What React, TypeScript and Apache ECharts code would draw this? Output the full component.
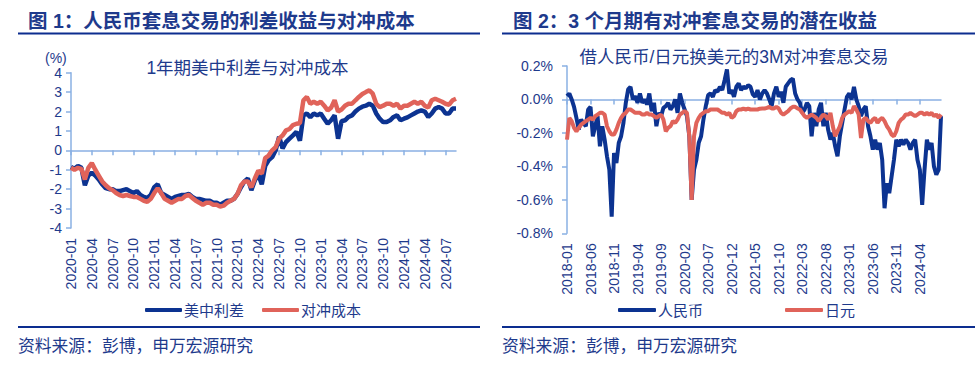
import React, { useEffect, useRef } from "react";
import * as echarts from "echarts";

// ---------- data ----------
// Left chart: half-monthly observations from 2020-01 to 2024-08
const spreadUSCN = [
  -0.86, -0.95, -0.8, -0.9, -1.8, -1.3, -1.15, -1.3, -1.5, -1.75,
  -1.95, -2.0, -2.0, -2.1, -2.1, -2.05, -2.0, -2.1, -2.2, -2.1,
  -2.3, -2.4, -2.45, -2.3, -1.9, -1.75, -2.2, -2.3, -2.4, -2.5,
  -2.4, -2.35, -2.3, -2.3, -2.25, -2.4, -2.5, -2.5, -2.55, -2.6,
  -2.6, -2.7, -2.7, -2.8, -2.7, -2.6, -2.6, -2.5,
  -2.25, -1.9, -1.6, -1.45, -2.05, -1.55, -1.25, -1.75, -0.8, -0.5,
  -0.35, 0.0, 0.7, 0.1, 0.43, 0.6, 0.77, 0.95, 0.5, 1.8,
  1.9, 1.7, 1.9, 1.8, 1.9, 1.63, 1.37, 1.55, 1.8, 0.6,
  1.5, 1.55, 1.72, 1.8, 2.0, 2.15, 2.25, 2.3, 2.4, 2.3,
  1.9, 1.63, 1.46, 1.46, 1.55, 1.72, 1.8, 1.55, 1.63, 1.7,
  1.8, 1.9, 2.0, 2.06, 2.0, 1.72, 1.9, 2.15, 2.23, 2.15,
  1.9, 1.9, 2.15, 2.15,
];
const hedgeCost = [
  -0.9, -1.0, -0.9, -0.95, -1.5, -0.9, -0.65, -1.0, -1.3, -1.6,
  -1.8, -1.95, -2.05, -2.2, -2.3, -2.35, -2.3, -2.35, -2.4, -2.4,
  -2.5, -2.6, -2.65, -2.5, -2.2, -1.95, -2.2, -2.5, -2.6, -2.7,
  -2.6, -2.5, -2.5, -2.35, -2.3, -2.45, -2.6, -2.7, -2.8, -2.7,
  -2.7, -2.8, -2.8, -2.9, -2.85, -2.7, -2.6, -2.5,
  -2.25, -1.8, -1.6, -1.6, -1.9, -1.45, -1.05, -1.2, -0.4, -0.26,
  0.0, 0.17, 0.6, 0.77, 1.03, 1.1, 1.3, 1.37, 1.4, 2.58,
  2.75, 2.4, 2.5, 2.4, 2.5, 2.3, 2.06, 2.2, 2.58, 2.0,
  2.1, 2.3, 2.4, 2.4, 2.58, 2.75, 2.9, 3.0, 3.09, 2.92,
  2.4, 2.23, 2.3, 2.4, 2.4, 2.3, 2.4, 2.15, 2.3, 2.3,
  2.4, 2.5, 2.4, 2.5, 2.3, 2.2, 2.58, 2.66, 2.58, 2.5,
  2.4, 2.35, 2.58, 2.66,
];

// Right chart: half-monthly observations from 2018-01 to 2024-08 (%)
const carryCNY = [
  0.02, 0.035, 0.0, -0.044, -0.11, -0.18, -0.12, -0.14, -0.16, -0.06,
  -0.044, -0.22, -0.16, -0.1, -0.28, -0.16, -0.24, -0.34, -0.42, -0.7,
  -0.32, -0.38, -0.26, -0.22, -0.14, -0.02, 0.06, 0.076, 0.0, 0.02,
  -0.02, 0.036, -0.02, 0.0, -0.03, 0.036, -0.07, -0.02, -0.16, -0.08,
  -0.1, -0.05, -0.04, -0.02, -0.06, -0.04, 0.0, -0.08, 0.036, -0.02,
  -0.06, -0.1, -0.22, -0.6, -0.42, -0.36, -0.26, -0.22, -0.12, -0.04,
  0.026, 0.036, 0.016, 0.056, 0.046, 0.076, 0.056, 0.115, 0.18, 0.036,
  0.056, 0.016, 0.076, 0.096, 0.056, 0.076, 0.066, 0.085, 0.076, 0.03,
  0.016, 0.056, 0.0, 0.036, 0.056, 0.036, 0.0, -0.04, 0.036, 0.076,
  0.016, 0.046, -0.02, 0.076, 0.096, 0.115, 0.125, 0.036, 0.0, -0.02,
  -0.08, -0.06, -0.02, -0.04, -0.22, -0.08, -0.16, -0.06, -0.02, -0.16,
  -0.08, -0.18, -0.24, -0.2, -0.28, -0.34, -0.22, -0.14, -0.06, 0.016,
  0.036, 0.0, 0.076, 0.0, -0.04, -0.1, -0.06, -0.04, -0.16, -0.22,
  -0.3, -0.24, -0.3, -0.26, -0.36, -0.65, -0.5, -0.56, -0.46, -0.36,
  -0.24, -0.28, -0.24, -0.27, -0.24, -0.26, -0.3, -0.26, -0.24, -0.36,
  -0.42, -0.63, -0.42, -0.24, -0.3, -0.26, -0.4, -0.45, -0.42, -0.1,
];
const carryJPY = [
  -0.24, -0.11, -0.13, -0.17, -0.19, -0.17, -0.15, -0.14, -0.13, -0.12,
  -0.11, -0.12, -0.1, -0.09, -0.08, -0.08, -0.09, -0.16, -0.19, -0.21,
  -0.21, -0.18, -0.14, -0.11, -0.09, -0.08, -0.06, -0.06, -0.07, -0.08,
  -0.08, -0.08, -0.09, -0.09, -0.08, -0.09, -0.09, -0.1, -0.11, -0.1,
  -0.09, -0.12, -0.19, -0.17, -0.16, -0.13, -0.14, -0.12, -0.09, -0.08,
  -0.07, -0.08, -0.22, -0.6, -0.22, -0.14, -0.11, -0.09, -0.08, -0.07,
  -0.07, -0.06, -0.06, -0.06, -0.06, -0.07, -0.08, -0.08, -0.09, -0.08,
  -0.11, -0.1, -0.07, -0.06, -0.06, -0.055, -0.06, -0.055, -0.06, -0.06,
  -0.06, -0.06, -0.055, -0.054, -0.054, -0.05, -0.044, -0.054, -0.054, -0.044,
  -0.054, -0.08, -0.09, -0.08, -0.07, -0.054, -0.044, -0.044, -0.054, -0.06,
  -0.08, -0.1, -0.11, -0.1, -0.09, -0.1, -0.11, -0.13, -0.11, -0.09,
  -0.1, -0.12, -0.08, -0.16, -0.22, -0.19, -0.16, -0.11, -0.09, -0.08,
  -0.07, -0.08, -0.04, -0.06, -0.09, -0.23, -0.12, -0.11, -0.13, -0.14,
  -0.12, -0.11, -0.14, -0.12, -0.11, -0.13, -0.16, -0.18, -0.21, -0.22,
  -0.19, -0.14, -0.12, -0.11, -0.09, -0.09, -0.08, -0.09, -0.1, -0.09,
  -0.08, -0.08, -0.09, -0.08, -0.09, -0.08, -0.1, -0.09, -0.11, -0.09,
];

function halfMonthDates(year: number, month: number, count: number): string[] {
  const out: string[] = [];
  let y = year;
  let m = month;
  for (let i = 0; i < count; i++) {
    const mm = String(m).padStart(2, "0");
    out.push(`${y}-${mm}-${i % 2 === 0 ? "01" : "16"}`);
    if (i % 2 === 1) {
      m++;
      if (m > 12) {
        m = 1;
        y++;
      }
    }
  }
  return out;
}

const leftDates = halfMonthDates(2020, 1, spreadUSCN.length);
const rightDates = halfMonthDates(2018, 1, carryCNY.length);

const BLUE = "#0C3391";
const RED = "#E0635A";
const NAVY = "#1E3A8C";
const AXIS = "#8AB0E3";
const RULE = "#0C2D8F";
const FONT = "'Liberation Sans', 'Noto Sans CJK SC', sans-serif";

export default function App() {
  const ref = useRef<HTMLDivElement>(null);
  useEffect(() => {
    if (!ref.current) return;
    const chart = echarts.init(ref.current, undefined, { renderer: "svg" });

    const zeroAxis = (grid: number, data: string[], step: number) => ({
      type: "category",
      gridIndex: grid,
      data,
      boundaryGap: false,
      position: "bottom",
      axisLine: { onZero: true, lineStyle: { color: AXIS, width: 1.5 } },
      axisTick: {
        show: true,
        length: 5,
        interval: (i: number) => i % step === 0,
        lineStyle: { color: AXIS, width: 1.5 },
      },
      axisLabel: { show: false },
      splitLine: { show: false },
    });
    const labelAxis = (grid: number, data: string[], step: number) => ({
      type: "category",
      gridIndex: grid,
      data,
      boundaryGap: false,
      position: "bottom",
      axisLine: { show: false, onZero: false },
      axisTick: { show: false },
      splitLine: { show: false },
      axisLabel: {
        interval: (i: number) => i % step === 0,
        rotate: 90,
        margin: 10,
        fontSize: 14,
        fontFamily: FONT,
        color: NAVY,
        formatter: (v: string) => v.slice(0, 7),
      },
    });

    const option: any = {
      animation: false,
      textStyle: { fontFamily: FONT },
      grid: [
        { left: 71, top: 72.7, width: 385, height: 155.3 },
        { left: 567, top: 66, width: 374, height: 167.3 },
      ],
      xAxis: [
        zeroAxis(0, leftDates, 6),
        labelAxis(0, leftDates, 6),
        zeroAxis(1, rightDates, 10),
        labelAxis(1, rightDates, 10),
      ],
      yAxis: [
        {
          type: "value",
          gridIndex: 0,
          min: -4,
          max: 4,
          interval: 1,
          axisLine: { show: true, lineStyle: { color: AXIS, width: 1.5 } },
          axisTick: { show: true, length: 5, lineStyle: { color: AXIS, width: 1.5 } },
          splitLine: { show: false },
          axisLabel: { fontSize: 14, color: NAVY, margin: 9, fontFamily: FONT },
        },
        {
          type: "value",
          gridIndex: 1,
          min: -0.8,
          max: 0.2,
          interval: 0.2,
          axisLine: { show: true, lineStyle: { color: AXIS, width: 1.5 } },
          axisTick: { show: true, length: 5, lineStyle: { color: AXIS, width: 1.5 } },
          splitLine: { show: false },
          axisLabel: {
            fontSize: 14,
            color: NAVY,
            margin: 14,
            fontFamily: FONT,
            formatter: (v: number) => `${v.toFixed(1)}%`,
          },
        },
      ],
      legend: [
        {
          data: ["美中利差", "对冲成本"],
          left: 145,
          top: 302.5,
          padding: 0,
          icon: "roundRect",
          itemWidth: 37,
          itemHeight: 4,
          itemGap: 18,
          textStyle: { fontSize: 15, color: NAVY, fontFamily: FONT, padding: [0, 0, 0, -3] },
        },
        {
          data: ["人民币", "日元"],
          left: 618,
          top: 302.5,
          padding: 0,
          icon: "roundRect",
          itemWidth: 38,
          itemHeight: 4,
          itemGap: 82,
          textStyle: { fontSize: 15, color: NAVY, fontFamily: FONT, padding: [0, 0, 0, -3] },
        },
      ],
      series: [
        {
          name: "美中利差",
          type: "line",
          xAxisIndex: 0,
          yAxisIndex: 0,
          data: spreadUSCN,
          symbol: "none",
          lineStyle: { color: BLUE, width: 4.5 },
          itemStyle: { color: BLUE },
        },
        {
          name: "对冲成本",
          type: "line",
          xAxisIndex: 0,
          yAxisIndex: 0,
          data: hedgeCost,
          symbol: "none",
          lineStyle: { color: RED, width: 4.5 },
          itemStyle: { color: RED },
        },
        {
          name: "人民币",
          type: "line",
          xAxisIndex: 2,
          yAxisIndex: 1,
          data: carryCNY,
          symbol: "none",
          lineStyle: { color: BLUE, width: 4 },
          itemStyle: { color: BLUE },
        },
        {
          name: "日元",
          type: "line",
          xAxisIndex: 2,
          yAxisIndex: 1,
          data: carryJPY,
          symbol: "none",
          lineStyle: { color: RED, width: 4 },
          itemStyle: { color: RED },
        },
      ],
      graphic: [
        {
          type: "text",
          x: 28,
          y: 21,
          style: {
            text: "图 1：人民币套息交易的利差收益与对冲成本",
            font: `bold 19.5px ${FONT}`,
            fill: NAVY,
            align: "left",
            verticalAlign: "middle",
          },
        },
        {
          type: "text",
          x: 513,
          y: 21,
          style: {
            text: "图 2：3 个月期有对冲套息交易的潜在收益",
            font: `bold 19.5px ${FONT}`,
            fill: NAVY,
            align: "left",
            verticalAlign: "middle",
          },
        },
        { type: "line", shape: { x1: 18, y1: 33.5, x2: 480, y2: 33.5 }, style: { stroke: RULE, lineWidth: 2 } },
        { type: "line", shape: { x1: 502, y1: 33.5, x2: 975, y2: 33.5 }, style: { stroke: RULE, lineWidth: 2 } },
        { type: "line", shape: { x1: 18, y1: 327, x2: 480, y2: 327 }, style: { stroke: RULE, lineWidth: 2 } },
        { type: "line", shape: { x1: 502, y1: 327, x2: 975, y2: 327 }, style: { stroke: RULE, lineWidth: 2 } },
        {
          type: "text",
          x: 18,
          y: 346,
          style: {
            text: "资料来源：彭博，申万宏源研究",
            font: `16.8px ${FONT}`,
            fill: NAVY,
            align: "left",
            verticalAlign: "middle",
          },
        },
        {
          type: "text",
          x: 502,
          y: 346,
          style: {
            text: "资料来源：彭博，申万宏源研究",
            font: `16.8px ${FONT}`,
            fill: NAVY,
            align: "left",
            verticalAlign: "middle",
          },
        },
        {
          type: "text",
          x: 247.5,
          y: 68,
          style: {
            text: "1年期美中利差与对冲成本",
            font: `17.5px ${FONT}`,
            fill: NAVY,
            align: "center",
            verticalAlign: "middle",
          },
        },
        {
          type: "text",
          x: 734,
          y: 57,
          style: {
            text: "借人民币/日元换美元的3M对冲套息交易",
            font: `17.5px ${FONT}`,
            fill: NAVY,
            align: "center",
            verticalAlign: "middle",
          },
        },
        {
          type: "text",
          x: 45,
          y: 58,
          style: {
            text: "(%)",
            font: `14px ${FONT}`,
            fill: NAVY,
            align: "left",
            verticalAlign: "middle",
          },
        },
      ],
    };

    chart.setOption(option);
    return () => chart.dispose();
  }, []);

  return (
    <div
      ref={ref}
      style={{ position: "absolute", left: 0, top: 0, width: 975, height: 365, background: "#ffffff" }}
    />
  );
}
